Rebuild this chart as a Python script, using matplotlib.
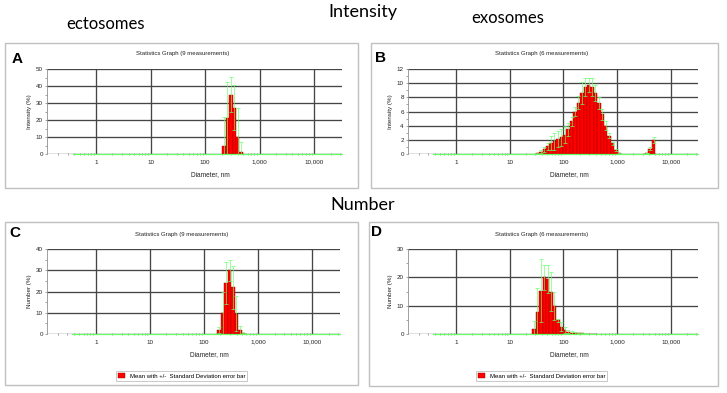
import matplotlib
matplotlib.use("Agg")
import matplotlib.pyplot as plt
import numpy as np
from matplotlib.patches import Rectangle, Patch
from matplotlib.ticker import FixedLocator, LogLocator, NullFormatter

# size classes (nm) of the non-zero bins, with mean and std of each
a_diam = [220.2, 255.0, 295.3, 342.0, 396.1, 458.7]
a_mean = [4.7, 21, 35, 27.3, 9.8, 1.2]
a_sd = [17, 21.5, 10.5, 13, 17, 6]

b_diam = [32.67, 37.84, 43.82, 50.75, 58.77, 68.06, 78.82, 91.28, 105.7, 122.4,
          141.8, 164.2, 190.1, 220.2, 255.0, 295.3, 342.0, 396.1, 458.7, 531.2,
          615.1, 712.4, 825.0, 955.4, 1106, 3580, 4145, 4801]
b_mean = [0.1, 0.3, 0.65, 1.1, 1.5, 1.8, 2.1, 2.35, 2.7, 3.5,
          4.6, 6.0, 7.25, 8.6, 9.5, 9.8, 9.5, 8.6, 7.2, 5.6,
          4.0, 2.6, 1.5, 0.55, 0.1, 0.15, 0.75, 2.0]
b_sd = [0.05, 0.2, 0.35, 0.5, 1.0, 1.2, 1.15, 1.25, 1.2, 0.9,
        0.6, 0.6, 0.9, 1.5, 1.3, 1.0, 1.3, 1.1, 0.9, 0.8,
        0.6, 0.3, 0.2, 0.15, 0.05, 0.05, 0.2, 0.4]

c_diam = [190.1, 220.2, 255.0, 295.3, 342.0, 396.1, 458.7, 531.2]
c_mean = [2, 10, 24, 30, 22, 9.6, 2, 0.3]
c_sd = [1.5, 10, 9.7, 5, 10, 8.4, 2, 0.3]

d_diam = [28.21, 32.67, 37.84, 43.82, 50.75, 58.77, 68.06, 78.82, 91.28, 105.7,
          122.4, 141.8, 164.2, 190.1, 220.2, 255.0, 295.3, 342.0, 396.1]
d_mean = [1.8, 7.9, 15.3, 20, 19.3, 15, 9.9, 4.9, 2.6, 1.4,
          0.8, 0.5, 0.35, 0.25, 0.18, 0.12, 0.08, 0.05, 0.03]
d_sd = [2.8, 8.3, 11, 4.5, 5, 7, 5, 0.5, 1.7, 1.2,
        0.6, 0.4, 0.3, 0.2, 0.15, 0.1, 0.08, 0.05, 0.03]

x_ticks = [1, 10, 100, 1000, 10000]
x_ticklabels = ["1", "10", "100", "1,000", "10,000"]

W, H = 727, 393
fig = plt.figure(figsize=(W / 100, H / 100), dpi=100)

small = "Liberation Sans"
big = "Lato"
red = "#ff0000"
green = "#66ff66"
grid_c = "#454545"
step = 1.1582  # ratio between neighbouring size classes


def rect(l, t, r, b):
    return [l / W, 1 - b / H, (r - l) / W, (b - t) / H]


panels = [
    dict(letter="A", box=(5, 43, 358, 188), ax=(47, 69, 342, 154), lp=(17, 59),
         ylab="Intensity (%)", ymax=50, major=10, minor=5, n=9,
         diam=a_diam, mean=a_mean, sd=a_sd, legend=False),
    dict(letter="B", box=(371, 43, 718, 188), ax=(408, 69, 698, 154), lp=(381, 58),
         ylab="Intensity (%)", ymax=12, major=2, minor=1, n=6,
         diam=b_diam, mean=b_mean, sd=b_sd, legend=False),
    dict(letter="C", box=(5, 222, 358, 385), ax=(47, 249, 340, 334), lp=(15, 233),
         ylab="Number (%)", ymax=40, major=10, minor=5, n=9,
         diam=c_diam, mean=c_mean, sd=c_sd, legend=True),
    dict(letter="D", box=(369, 222, 718, 386), ax=(408, 249, 698, 334), lp=(377, 232),
         ylab="Number (%)", ymax=30, major=10, minor=5, n=6,
         diam=d_diam, mean=d_mean, sd=d_sd, legend=True),
]

for p in panels:
    l, t, r, b = p["box"]
    fig.add_artist(Rectangle((l / W, 1 - b / H), (r - l) / W, (b - t) / H,
                             transform=fig.transFigure, fill=False,
                             edgecolor="#c0c0c0", lw=1.0))
    fig.text(p["lp"][0] / W, 1 - p["lp"][1] / H, p["letter"], fontsize=11,
             fontweight="bold", family=small, ha="center", va="center")

    al, at, ar, ab = p["ax"]
    ax = fig.add_axes(rect(al, at, ar, ab))
    ax.set_xscale("log")
    xmin, xmax = 10 ** -0.9, 10 ** 4.51
    ax.set_xlim(xmin, xmax)
    ax.set_ylim(0, p["ymax"])

    d = np.array(p["diam"])
    m = np.array(p["mean"])
    s = np.array(p["sd"])
    left = d / np.sqrt(step)
    ax.bar(left, m, width=left * step - left, align="edge", color=red,
           edgecolor="#a00000", linewidth=0.3, zorder=3)
    lo = np.minimum(s, m)
    ax.errorbar(d, m, yerr=[lo, s], fmt="none", ecolor=green, elinewidth=0.45,
                capsize=1.2, capthick=0.5, zorder=4)
    ax.plot([0.4 / np.sqrt(step), xmax], [0, 0], color=green, lw=0.9,
            zorder=5, clip_on=False)

    for sp in ["top", "right", "bottom"]:
        ax.spines[sp].set_visible(False)
    ax.spines["left"].set_color("#909090")
    ax.spines["left"].set_linewidth(0.6)

    ax.set_yticks(np.arange(0, p["ymax"] + 0.01, p["major"]))
    ax.yaxis.set_minor_locator(FixedLocator(np.arange(p["minor"], p["ymax"], p["major"])))
    ax.xaxis.set_major_locator(FixedLocator(x_ticks))
    ax.set_xticklabels(x_ticklabels)
    ax.xaxis.set_minor_locator(LogLocator(base=10, subs=np.arange(2, 10), numticks=20))
    ax.xaxis.set_minor_formatter(NullFormatter())
    ax.grid(True, which="major", color=grid_c, lw=0.95, zorder=0)
    ax.set_axisbelow(True)

    ax.tick_params(axis="x", which="major", length=0, pad=4, labelsize=4.5,
                   labelcolor="#222222")
    ax.tick_params(axis="x", which="minor", length=2, width=0.4, direction="inout",
                   color="#606060")
    ax.tick_params(axis="y", which="both", length=1.5, width=0.4, pad=1.5,
                   labelsize=4.5, color="#606060", labelcolor="#222222")
    for lab in ax.get_xticklabels() + ax.get_yticklabels():
        lab.set_family(small)

    axh = ab - at
    axw = ar - al
    ax.set_xlabel("Diameter, nm", fontsize=4.7, family=small, color="#222222")
    ax.xaxis.set_label_coords(0.555, -17.5 / axh)
    ax.set_ylabel(p["ylab"], fontsize=4.5, family=small, color="#222222")
    ax.yaxis.set_label_coords(-15 / axw, 0.5)
    ax.text(0.46, 1 + 15 / axh, "Statistics Graph (%d measurements)" % p["n"],
            transform=ax.transAxes, ha="center", va="center", fontsize=4.3,
            family=small, color="#222222")

    if p["legend"]:
        cx = (al + 0.46 * axw) / W
        leg = fig.legend(handles=[Patch(facecolor=red, edgecolor="#a00000", lw=0.3)],
                         labels=["Mean with +/-  Standard Deviation error bar"],
                         loc="center", bbox_to_anchor=(cx, 1 - 376 / H),
                         prop={"family": small, "size": 4.3}, frameon=True,
                         fancybox=False, borderpad=0.3, handlelength=1.2,
                         handleheight=1.0, handletextpad=0.8)
        leg.get_frame().set_edgecolor("#a0a0a0")
        leg.get_frame().set_linewidth(0.5)

fig.text(105 / W, 1 - 24 / H, "ectosomes", fontsize=12, family=big, ha="center", va="center")
fig.text(363 / W, 1 - 12 / H, "Intensity", fontsize=13, family=big, ha="center", va="center")
fig.text(508 / W, 1 - 18 / H, "exosomes", fontsize=12, family=big, ha="center", va="center")
fig.text(363 / W, 1 - 205 / H, "Number", fontsize=13, family=big, ha="center", va="center")

fig.savefig("out.png", dpi=100)
